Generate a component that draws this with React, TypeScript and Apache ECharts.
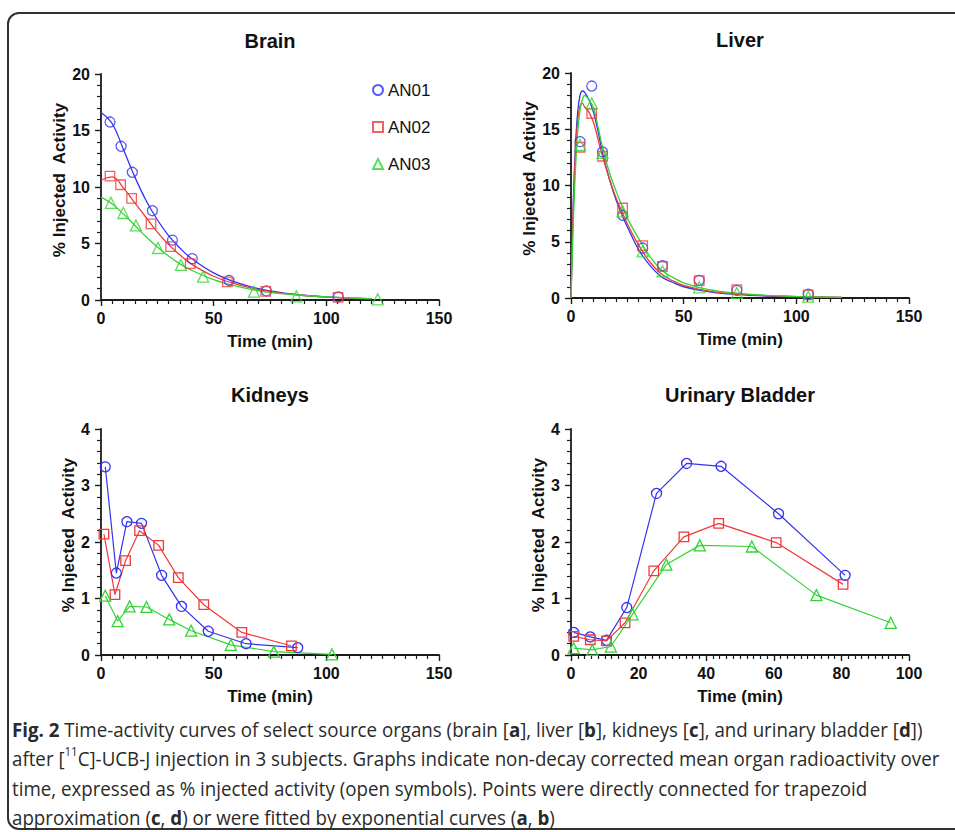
import React, { useEffect, useRef } from "react";
import * as echarts from "echarts";

// ---------- colours / fonts ----------
const BLUE = "#3333f2";
const RED = "#f03a3a";
const GREEN = "#33d433";
const AXIS = "#1c1c1c";
const FONT = "'Liberation Sans', Arial, sans-serif";
const CAPTION_FONT = "'Open Sans', sans-serif";

const SUBJECTS = ["AN01", "AN02", "AN03"];
const PANEL_TITLES = ["Brain", "Liver", "Kidneys", "Urinary Bladder"];
const X_NAME = "Time (min)";
const Y_NAME = "% Injected  Activity";

// ---------- Brain (a): measured points ----------
const brainT1 = [4.0, 8.9, 13.9, 22.8, 31.7, 40.5, 56.8, 73.4, 105.3];
const brainV1 = [15.75, 13.6, 11.3, 7.9, 5.3, 3.66, 1.74, 0.8, 0.27];
const brainT2 = [4.0, 8.7, 13.6, 22.2, 30.9, 39.6, 56.1, 73.1, 105.2];
const brainV2 = [10.96, 10.2, 9.0, 6.74, 4.73, 3.22, 1.6, 0.77, 0.24];
const brainT3 = [4.4, 9.9, 15.5, 25.3, 35.5, 45.3, 67.9, 86.7, 122.8];
const brainV3 = [8.6, 7.7, 6.6, 4.6, 3.1, 2.07, 0.74, 0.32, 0.06];
// Brain fitted curves
const brainFitT = [0, 5, 10, 15, 20, 25, 30, 35, 40, 50, 60, 70, 80, 90, 100, 110, 120];
const brainFit1 = [16.6, 15.6, 13.3, 10.9, 8.8, 7.1, 5.7, 4.6, 3.7, 2.4, 1.55, 1.0, 0.65, 0.42, 0.27, 0.17, 0.11];
const brainFit2 = [10.6, 10.9, 9.9, 8.6, 7.3, 6.0, 4.9, 4.0, 3.2, 2.1, 1.4, 0.92, 0.6, 0.4, 0.26, 0.17, 0.11];
const brainFit3 = [9.1, 8.5, 7.6, 6.6, 5.6, 4.7, 3.9, 3.2, 2.65, 1.8, 1.22, 0.82, 0.57, 0.4, 0.27, 0.18, 0.12];

// ---------- Liver (b): measured points ----------
const liverT = [4.0, 9.2, 14.0, 22.9, 31.8, 40.6, 56.9, 73.6, 105.3];
const liverV1 = [13.9, 18.84, 12.98, 7.35, 4.44, 2.87, 1.57, 0.68, 0.33];
const liverV2 = [13.4, 16.4, 12.6, 8.0, 4.65, 2.8, 1.54, 0.74, 0.27];
const liverV3 = [13.6, 17.3, 12.9, 7.7, 4.15, 2.37, 0.95, 0.45, 0.12];
// Liver fitted curves
const liverFitT = [0, 1, 2, 3, 4, 5, 6, 8, 10, 12, 14, 17, 20, 23, 26, 30, 35, 40, 45, 50, 60, 70, 80, 90, 100, 110, 120];
const liverFit1 = [0, 8.5, 13.6, 16.6, 18.0, 18.4, 18.3, 17.6, 16.5, 14.8, 12.9, 10.6, 8.7, 7.2, 5.9, 4.3, 2.9, 1.9, 1.4, 1.0, 0.58, 0.36, 0.23, 0.15, 0.1, 0.07, 0.05];
const liverFit2 = [0, 8.0, 13.0, 15.8, 17.1, 17.3, 17.0, 16.5, 15.6, 14.1, 12.6, 10.6, 8.9, 7.5, 6.2, 4.7, 3.2, 2.15, 1.55, 1.12, 0.65, 0.42, 0.28, 0.19, 0.13, 0.09, 0.06];
const liverFit3 = [0, 6.5, 11.5, 14.8, 16.7, 17.6, 18.0, 17.6, 16.9, 15.2, 13.4, 11.2, 9.5, 8.0, 6.7, 5.3, 3.7, 2.5, 1.85, 1.35, 0.78, 0.5, 0.32, 0.21, 0.14, 0.09, 0.06];

// ---------- Kidneys (c) ----------
const kidT1 = [1.9, 6.8, 11.5, 18.0, 26.9, 35.7, 47.6, 64.4, 87.3];
const kidV1 = [3.33, 1.45, 2.36, 2.33, 1.41, 0.86, 0.42, 0.2, 0.13];
const kidT2 = [1.3, 6.2, 10.9, 17.1, 25.6, 34.3, 45.6, 62.5, 84.5];
const kidV2 = [2.14, 1.07, 1.67, 2.2, 1.94, 1.37, 0.89, 0.4, 0.16];
const kidT3 = [1.9, 7.4, 12.7, 20.2, 30.3, 40.0, 57.6, 76.7, 102.5];
const kidV3 = [1.05, 0.6, 0.86, 0.85, 0.63, 0.43, 0.18, 0.06, 0.01];

// ---------- Urinary bladder (d) ----------
const blaT1 = [0.8, 5.7, 10.5, 16.5, 25.3, 34.2, 44.4, 61.4, 81.1];
const blaV1 = [0.4, 0.32, 0.26, 0.84, 2.86, 3.39, 3.34, 2.5, 1.41];
const blaT2 = [0.8, 5.7, 10.5, 16.0, 24.5, 33.4, 43.7, 60.7, 80.5];
const blaV2 = [0.33, 0.27, 0.25, 0.57, 1.49, 2.09, 2.33, 1.99, 1.25];
const blaT3 = [0.8, 6.3, 11.8, 18.2, 28.2, 38.1, 53.5, 72.6, 94.6];
const blaV3 = [0.12, 0.09, 0.15, 0.72, 1.6, 1.94, 1.92, 1.06, 0.57];

// ---------- ticks ----------
const X_MAX = [150, 150, 150, 100];
const X_INTERVAL = [50, 50, 50, 20];
const X_MINOR = [10, 10, 10, 10];
const Y_MAX = [20, 20, 4, 4];
const Y_INTERVAL = [5, 5, 1, 1];
const Y_MINOR = [5, 5, 5, 5];

// ---------- caption ----------
const CAPTION = [
  "{b|Fig. 2} Time-activity curves of select source organs (brain [{b|a}], liver [{b|b}], kidneys [{b|c}], and urinary bladder [{b|d}])",
  "after [{s|11}C]-UCB-J injection in 3 subjects. Graphs indicate non-decay corrected mean organ radioactivity over",
  "time, expressed as % injected activity (open symbols). Points were directly connected for trapezoid",
  "approximation ({b|c}, {b|d}) or were fitted by exponential curves ({b|a}, {b|b})",
];

const COLORS = [BLUE, RED, GREEN];
const SYMBOLS = ["circle", "rect", "triangle"];
const SYMBOL_SIZES = [10, 9.5, 11];

const zip = (t: number[], v: number[]) => t.map((x, i) => [x, v[i]]);

const GRIDS = [
  { left: 101, top: 74, width: 338, height: 226 },
  { left: 571, top: 73, width: 338, height: 225 },
  { left: 101, top: 429, width: 338, height: 226 },
  { left: 571, top: 429, width: 338, height: 226 },
];
const Y_NAME_GAP = [31, 32, 23, 22];

function markerStyle(i: number) {
  return {
    symbol: SYMBOLS[i],
    symbolSize: SYMBOL_SIZES[i],
    itemStyle: { color: "rgba(255,255,255,0)", borderColor: COLORS[i], borderWidth: 1.3 },
  };
}

function buildOption() {
  const grid = GRIDS.map((g) => ({ ...g, containLabel: false, outerBoundsMode: "none" }));
  const xAxis = GRIDS.map((_, k) => ({
    type: "value",
    gridIndex: k,
    min: 0,
    max: X_MAX[k],
    interval: X_INTERVAL[k],
    name: X_NAME,
    nameLocation: "middle",
    nameGap: 33,
    nameTextStyle: { fontFamily: FONT, fontWeight: "bold", fontSize: 17, color: "#111" },
    axisLine: { show: true, onZero: false, lineStyle: { color: AXIS, width: 1.8 } },
    axisTick: { show: true, length: 6, lineStyle: { color: AXIS, width: 1.4 } },
    minorTick: { show: true, splitNumber: X_MINOR[k], length: 4, lineStyle: { color: AXIS, width: 1.2 } },
    splitLine: { show: false },
    minorSplitLine: { show: false },
    axisLabel: {
      fontFamily: FONT, fontWeight: "bold", fontSize: 16, color: "#111", margin: 10,
      showMinLabel: true, showMaxLabel: true, hideOverlap: false,
    },
  }));
  const yAxis = GRIDS.map((_, k) => ({
    type: "value",
    gridIndex: k,
    min: 0,
    max: Y_MAX[k],
    interval: Y_INTERVAL[k],
    name: Y_NAME,
    nameLocation: "middle",
    nameGap: Y_NAME_GAP[k],
    nameTextStyle: { fontFamily: FONT, fontWeight: "bold", fontSize: 17, color: "#111", padding: [0, 0, 0, 14] },
    axisLine: { show: true, onZero: false, lineStyle: { color: AXIS, width: 1.8 } },
    axisTick: { show: true, length: 6, lineStyle: { color: AXIS, width: 1.4 } },
    minorTick: { show: true, splitNumber: Y_MINOR[k], length: 4, lineStyle: { color: AXIS, width: 1.2 } },
    splitLine: { show: false },
    minorSplitLine: { show: false },
    axisLabel: {
      fontFamily: FONT, fontWeight: "bold", fontSize: 16, color: "#111", margin: 11,
      showMinLabel: true, showMaxLabel: true, hideOverlap: false,
    },
  }));

  const series: any[] = [];
  const brainPts = [zip(brainT1, brainV1), zip(brainT2, brainV2), zip(brainT3, brainV3)];
  const brainFits = [zip(brainFitT, brainFit1), zip(brainFitT, brainFit2), zip(brainFitT, brainFit3)];
  const liverPts = [zip(liverT, liverV1), zip(liverT, liverV2), zip(liverT, liverV3)];
  const liverFits = [zip(liverFitT, liverFit1), zip(liverFitT, liverFit2), zip(liverFitT, liverFit3)];
  const kidPts = [zip(kidT1, kidV1), zip(kidT2, kidV2), zip(kidT3, kidV3)];
  const blaPts = [zip(blaT1, blaV1), zip(blaT2, blaV2), zip(blaT3, blaV3)];

  const addScatterAndFit = (k: number, pts: number[][][], fits: number[][][]) => {
    SUBJECTS.forEach((name, i) => {
      series.push({
        name,
        type: "scatter",
        xAxisIndex: k,
        yAxisIndex: k,
        data: pts[i],
        z: 3,
        ...markerStyle(i),
      });
    });
    SUBJECTS.forEach((name, i) => {
      series.push({
        name: name + " fit",
        type: "line",
        xAxisIndex: k,
        yAxisIndex: k,
        data: fits[i],
        smooth: 0.4,
        symbol: "none",
        showSymbol: false,
        lineStyle: { color: COLORS[i], width: 1.3 },
        itemStyle: { color: COLORS[i] },
        z: 2,
        silent: true,
      });
    });
  };
  addScatterAndFit(0, brainPts, brainFits);
  addScatterAndFit(1, liverPts, liverFits);

  const addConnected = (k: number, pts: number[][][]) => {
    SUBJECTS.forEach((name, i) => {
      series.push({
        name,
        type: "line",
        xAxisIndex: k,
        yAxisIndex: k,
        data: pts[i],
        showSymbol: true,
        ...markerStyle(i),
        lineStyle: { color: COLORS[i], width: 1.2 },
        z: 3,
      });
    });
  };
  addConnected(2, kidPts);
  addConnected(3, blaPts);

  const titleCenters = [
    [270, 41],
    [740, 40],
    [270, 395],
    [740, 395],
  ];

  const graphic: any[] = [
    {
      type: "rect",
      shape: { x: 8, y: 13, width: 1000, height: 816, r: 11 },
      style: { fill: "none", stroke: "#303030", lineWidth: 2 },
      silent: true,
      z: 0,
    },
    ...PANEL_TITLES.map((t, k) => ({
      type: "text",
      x: titleCenters[k][0],
      y: titleCenters[k][1],
      style: {
        text: t,
        align: "center",
        verticalAlign: "middle",
        fontFamily: FONT,
        fontWeight: "bold",
        fontSize: 20,
        fill: "#111",
      },
    })),
    ...CAPTION.map((line, j) => ({
      type: "text",
      x: 12,
      y: 730 + j * 29.3,
      scaleX: 0.96,
      style: {
        text: line,
        align: "left",
        verticalAlign: "middle",
        fontFamily: CAPTION_FONT,
        fontSize: 19.5,
        lineHeight: 28,
        fill: "#2a2a2a",
        rich: {
          b: { fontFamily: CAPTION_FONT, fontSize: 19.5, fontWeight: "bold", lineHeight: 28, fill: "#2a2a2a" },
          s: { fontFamily: CAPTION_FONT, fontSize: 12, lineHeight: 14, verticalAlign: "top", fill: "#2a2a2a" },
        },
      },
    })),
  ];

  return {
    animation: false,
    backgroundColor: "#ffffff",
    grid,
    xAxis,
    yAxis,
    legend: {
      data: SUBJECTS,
      orient: "vertical",
      left: 367,
      top: 75,
      itemWidth: 10,
      itemHeight: 10,
      itemGap: 17,
      selectedMode: false,
      textStyle: { fontFamily: FONT, fontSize: 17, color: "#111", lineHeight: 20 },
    },
    series,
    graphic,
  };
}

export default function App() {
  const ref = useRef<HTMLDivElement>(null);
  useEffect(() => {
    if (!ref.current) return;
    const chart = echarts.init(ref.current, null, { renderer: "svg" });
    chart.setOption(buildOption() as any);
    return () => chart.dispose();
  }, []);
  return (
    <div
      ref={ref}
      style={{ position: "fixed", left: 0, top: 0, width: 955, height: 832, background: "#fff" }}
    />
  );
}
